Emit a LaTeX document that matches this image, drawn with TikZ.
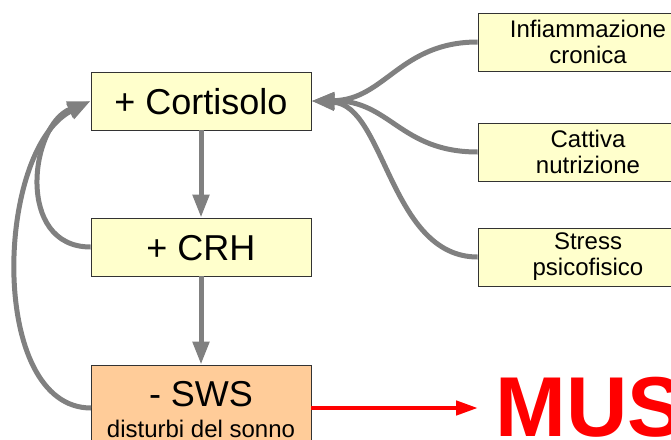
\documentclass[tikz,border=0pt]{standalone}
\usepackage{fontspec}
\setmainfont{Liberation Sans}
\usetikzlibrary{arrows.meta}
\definecolor{boxyellow}{HTML}{FFFFCC}
\definecolor{boxorange}{HTML}{FFCC99}
\definecolor{linegray}{HTML}{808080}
\definecolor{boxborder}{HTML}{333333}
\definecolor{mred}{HTML}{FF0000}
\tikzset{
  bigbox/.style={draw=boxborder, line width=0.8pt, fill=boxyellow, minimum width=220pt, minimum height=58pt, inner sep=0pt,
    font=\fontsize{36}{40}\selectfont, text height=26pt, text depth=0pt},
  sidebox/.style={draw=boxborder, line width=0.8pt, fill=boxyellow, minimum width=220pt, minimum height=58pt, inner sep=0pt,
    align=center, font=\fontsize{24}{24}\selectfont},
  grayarrow/.style={draw=linegray, line width=5pt, -{Triangle[length=23pt,width=16pt]}},
  redarrow/.style={draw=mred, line width=4.5pt, -{Triangle[length=22pt,width=14pt]}}
}
\begin{document}
\begin{tikzpicture}[x=1pt,y=-1pt]
\useasboundingbox (0,0) rectangle (671,439);
% left column
\node[bigbox] (cort) at (201,101) {+ Cortisolo};
\node[bigbox] (crh) at (201,247) {+ CRH};
\node[bigbox, fill=boxorange, minimum height=90pt] (sws) at (201,410) {};
\node[anchor=base, inner sep=0pt, font=\fontsize{36}{40}\selectfont] (swst) at (201,406) {- SWS};
\node[anchor=base, inner sep=0pt, font=\fontsize{24}{26}\selectfont] (swsd) at (201,437) {disturbi del sonno};
% right column
\node[sidebox] (inf) at (588,42) {Infiammazione\\[2pt]cronica};
\node[sidebox] (nut) at (588,152) {Cattiva\\[2pt]nutrizione};
\node[sidebox] (str) at (588,257) {Stress\\[2pt]psicofisico};
% MUS
\node[anchor=base west, inner sep=0pt, text=mred, font=\fontsize{85}{85}\selectfont\bfseries] (mus) at (495,436) {MUS};
\coordinate (musin) at (478,408);
% arrows
\draw[grayarrow] (cort.south) -- (crh.north);
\draw[grayarrow] (crh.south) -- (sws.north);
\draw[grayarrow] (crh.west) .. controls (15,247) and (30,125) .. (cort.west);
\draw[grayarrow] (91,408) .. controls (-12,408) and (-5,150) .. (cort.west);
\draw[grayarrow] (inf.west) .. controls (400,42) and (385,100) .. (cort.east);
\draw[grayarrow] (nut.west) .. controls (400,152) and (390,100) .. (cort.east);
\draw[grayarrow] (str.west) .. controls (390,257) and (385,105) .. (cort.east);
\draw[redarrow] (311,408) -- (musin);
\end{tikzpicture}
\end{document}
